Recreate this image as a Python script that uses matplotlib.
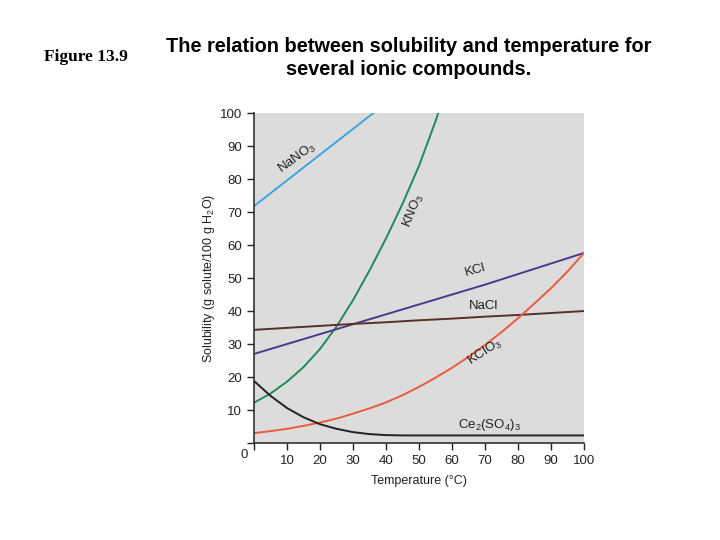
import numpy as np
import matplotlib.pyplot as plt

plt.rcParams['font.family'] = ['Liberation Sans', 'DejaVu Sans']
plt.rcParams['mathtext.fontset'] = 'custom'
plt.rcParams['mathtext.rm'] = 'Liberation Sans'

# temperatures (deg C)
temps = [0, 10, 20, 30, 40, 50, 60, 70, 80, 90, 100]
temps5 = [0, 5, 10, 15, 20, 25, 30, 35, 40, 45, 50, 55, 60, 65, 70, 75, 80, 85, 90, 95, 100]

# solubility curves (g solute / 100 g water)
nano3 = [71.8, 79.6, 87.4, 95.2, 103, 111, 119, 127, 135, 143, 151]
kno3_t = [0, 5, 10, 15, 20, 25, 30, 35, 40, 45, 50, 55, 60]
kno3 = [12.2, 15, 18.6, 23, 28.5, 35.3, 43.3, 52.3, 62, 72.5, 84, 97.5, 113]
kcl = [27, 30, 33, 36, 39, 42, 45, 48, 51.2, 54.4, 57.6]
nacl = [34.3, 34.9, 35.5, 36.1, 36.6, 37.2, 37.7, 38.3, 38.8, 39.4, 40.0]
kclo3 = [3, 3.6, 4.3, 5.2, 6.2, 7.4, 8.9, 10.5, 12.3, 14.5, 17, 19.8, 22.8, 26.1,
         29.7, 33.6, 37.8, 42.3, 46.9, 52, 57.6]
ce2so43 = [18.8, 14.3, 10.6, 7.8, 5.7, 4.3, 3.3, 2.7, 2.4, 2.3, 2.3, 2.3, 2.3, 2.3,
           2.3, 2.3, 2.3, 2.3, 2.3, 2.3, 2.3]

fig = plt.figure(figsize=(7.2, 5.4), dpi=100)
ax = fig.add_axes([0.3528, 0.1796, 0.4583, 0.611])
ax.set_facecolor('#dcdcdc')

lw = 1.4
ax.plot(temps, nano3, color='#3ba6dc', lw=lw)
ax.plot(kno3_t, kno3, color='#1e8a5c', lw=lw)
ax.plot(temps, kcl, color='#4a3a8e', lw=lw)
ax.plot(temps, nacl, color='#5c2e2a', lw=lw)
ax.plot(temps5, kclo3, color='#ec5a3c', lw=lw)
ax.plot(temps5, ce2so43, color='#222222', lw=lw)

# curve labels
lab = dict(fontsize=9.5, color='#222222', ha='center', va='center')
ax.text(13, 86.5, 'NaNO$_3$', rotation=36, **lab)
ax.text(48.5, 70.5, 'KNO$_3$', rotation=68, **lab)
ax.text(67, 52.5, 'KCl', rotation=16, **lab)
ax.text(69.5, 41.6, 'NaCl', **lab)
ax.text(70, 27.5, 'KClO$_3$', rotation=33, **lab)
ax.text(71.5, 5.6, 'Ce$_2$(SO$_4$)$_3$', **lab)

ax.set_xlim(0, 100)
ax.set_ylim(0, 100)
ax.set_xticks(range(0, 101, 10))
ax.set_yticks(range(0, 101, 10))
ax.set_xticklabels([''] + [str(t) for t in range(10, 101, 10)])
ax.set_yticklabels([''] + [str(t) for t in range(10, 101, 10)])
ax.text(-3, -3.5, '0', fontsize=9.5, color='#222222', ha='center', va='center')
ax.tick_params(labelsize=9.5, colors='#222222', length=5, width=1)
for s in ['top', 'right']:
    ax.spines[s].set_visible(False)
for s in ['left', 'bottom']:
    ax.spines[s].set_color('#333333')
    ax.spines[s].set_linewidth(1.2)

ax.set_xlabel('Temperature (°C)', fontsize=9, color='#222222', labelpad=6)
ax.set_ylabel('Solubility (g solute/100 g H$_2$O)', fontsize=9, color='#222222', labelpad=2)

fig.text(0.119, 0.894, 'Figure 13.9', family='Liberation Serif', weight='bold',
         fontsize=12.5, ha='center', va='center')
fig.text(0.567, 0.892, 'The relation between solubility and temperature for\nseveral ionic compounds.',
         family=['Liberation Sans Narrow', 'Liberation Sans'], weight='bold', fontsize=14.4,
         ha='center', va='center', linespacing=1.25)

fig.savefig('out.png', dpi=100)
